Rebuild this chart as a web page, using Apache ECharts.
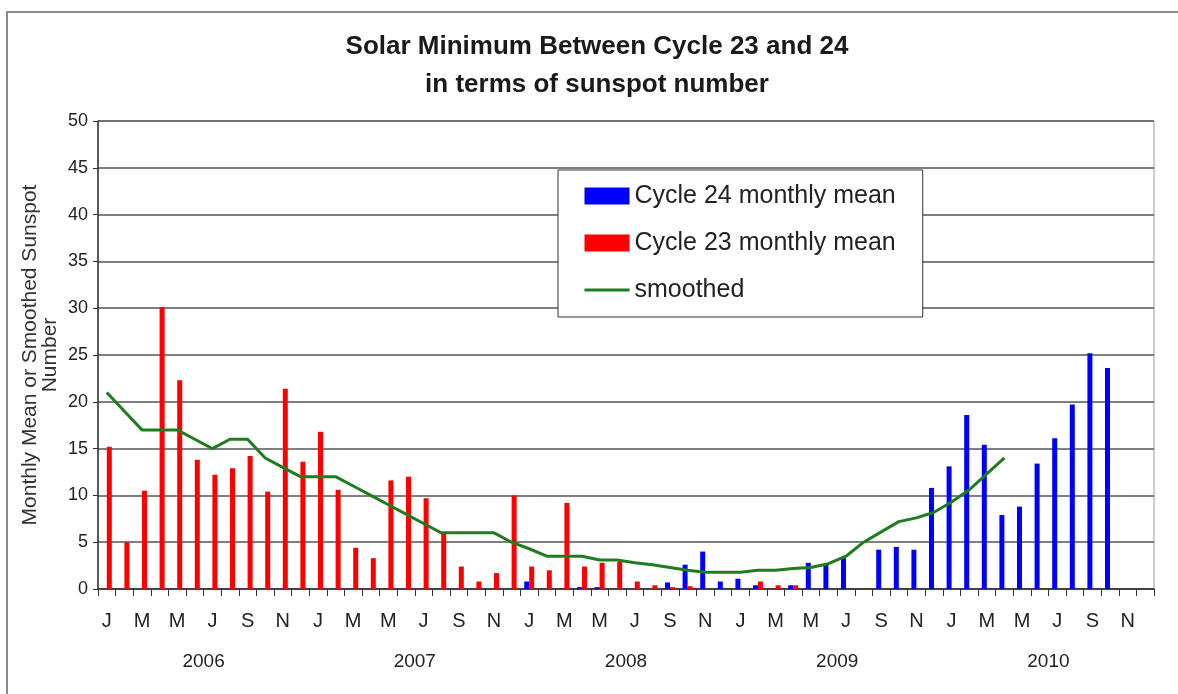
<!DOCTYPE html>
<html>
<head>
<meta charset="utf-8">
<script src="https://cdn.jsdelivr.net/npm/echarts@6/dist/echarts.min.js"></script>
<style>
html,body{margin:0;padding:0;background:#fff;}
#chart{width:1178px;height:694px;}
</style>
</head>
<body>
<div id="chart"></div>
<script>
const monthLetters = ['J','F','M','A','M','J','J','A','S','O','N','D'];
const years = ['2006','2007','2008','2009','2010'];

const cycle24 = [
  null,null,null,null,null,null,null,null,null,null,null,null,
  null,null,null,null,null,null,null,null,null,null,null,null,
  0.8,0,0,0.2,0.2,0,0,0,0.7,2.6,4.0,0.8,
  1.1,0.4,0,0.4,2.8,2.6,3.3,0,4.2,4.5,4.2,10.8,
  13.1,18.6,15.4,7.9,8.8,13.4,16.1,19.7,25.2,23.6,null,null
];
const cycle23 = [
  15.2,5.0,10.5,30.1,22.3,13.8,12.2,12.9,14.2,10.4,21.4,13.6,
  16.8,10.6,4.4,3.3,11.6,12.0,9.7,6.0,2.4,0.8,1.7,10.0,
  2.4,2.0,9.2,2.4,2.8,2.9,0.8,0.4,0.2,0.3,0,0,
  0,0.8,0.4,0.4,null,null,null,null,null,null,null,null,
  null,null,null,null,null,null,null,null,null,null,null,null
];
const smoothed = [
  21,19,17,17,17,16,15,16,16,14,13,12,
  12,12,11,10,9,8,7,6,6,6,6,5,
  4.3,3.5,3.5,3.5,3.1,3.1,2.8,2.6,2.3,2.0,1.8,1.8,
  1.8,2.0,2.0,2.2,2.3,2.7,3.5,5.0,6.1,7.2,7.6,8.2,
  9.3,10.6,12.3,14.0,null,null,null,null,null,null,null,null
];
const yTicks = {min:0, max:50, interval:5};

const categories = [];
years.forEach(() => monthLetters.forEach(m => categories.push(m)));

const FONT = "'Liberation Sans', Arial, sans-serif";
const chart = echarts.init(document.getElementById('chart'));
chart.setOption({
  animation: false,
  backgroundColor: '#fff',
  graphic: [
    {type:'rect', shape:{x:7, y:12, width:1200, height:700}, style:{fill:'none', stroke:'#8a8a8a', lineWidth:2}, silent:true, z:-1},
    {type:'text', x:597, y:47, style:{text:'Solar Minimum Between Cycle 23 and 24', font:"bold 26px 'Liberation Sans', Arial", fill:'#1a1a1a', align:'center', verticalAlign:'middle'}},
    {type:'text', x:597, y:85, style:{text:'in terms of sunspot number', font:"bold 26px 'Liberation Sans', Arial", fill:'#1a1a1a', align:'center', verticalAlign:'middle'}}
  ],
  grid: {left:98, top:121, right:24, height:468, show:true, borderColor:'#999', borderWidth:1, backgroundColor:'transparent', outerBoundsMode:'none', containLabel:false},
  legend: {
    orient:'vertical', left:558, top:170,
    padding:[12,27,13,25],
    itemGap:19, itemWidth:45, itemHeight:17,
    backgroundColor:'#fff', borderColor:'#333', borderWidth:1,
    textStyle:{fontFamily:FONT, fontSize:25, color:'#222', lineHeight:28},
    data:[
      {name:'Cycle 24 monthly mean', icon:'rect'},
      {name:'Cycle 23 monthly mean', icon:'rect'},
      {name:'smoothed', itemStyle:{opacity:0}, lineStyle:{color:'#1e7d1e', width:3}}
    ]
  },
  xAxis: [
    {
      type:'category', data:categories, boundaryGap:true,
      axisLine:{lineStyle:{color:'#333', width:1.5}},
      axisTick:{show:true, interval:0, length:7, lineStyle:{color:'#333'}},
      axisLabel:{interval:1, fontFamily:FONT, fontSize:20, color:'#222', margin:22},
      splitLine:{show:false}
    },
    {
      type:'category', data:years, position:'bottom', offset:53, boundaryGap:true,
      axisLine:{show:false}, axisTick:{show:false},
      axisLabel:{fontFamily:FONT, fontSize:19, color:'#222', margin:10},
      splitLine:{show:false}
    }
  ],
  yAxis: {
    type:'value', min:yTicks.min, max:yTicks.max, interval:yTicks.interval,
    name:'Monthly Mean or Smoothed Sunspot\nNumber', nameLocation:'middle', nameGap:38, nameMoveOverlap:false,
    nameTextStyle:{fontFamily:FONT, fontSize:21, color:'#333', lineHeight:20},
    axisLine:{show:true, lineStyle:{color:'#333', width:1.5}},
    axisTick:{show:true, length:5, lineStyle:{color:'#333'}},
    axisLabel:{fontFamily:FONT, fontSize:18, color:'#222', margin:10},
    splitLine:{show:true, lineStyle:{color:'#555', width:1.5}}
  },
  series: [
    {name:'Cycle 24 monthly mean', type:'bar', data:cycle24, barWidth:5, barGap:'0%', itemStyle:{color:'#0000ff'}},
    {name:'Cycle 23 monthly mean', type:'bar', data:cycle23, barWidth:5, barGap:'0%', itemStyle:{color:'#ff0000'}},
    {name:'smoothed', type:'line', data:smoothed, symbol:'none', connectNulls:false, lineStyle:{color:'#1e7d1e', width:3}, itemStyle:{color:'#1e7d1e'}, z:5}
  ]
});
</script>
</body>
</html>
